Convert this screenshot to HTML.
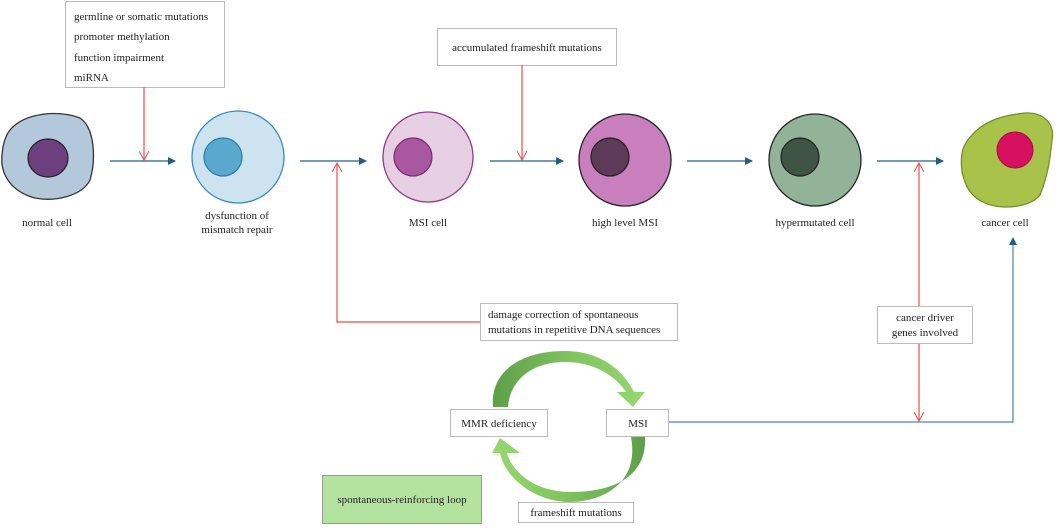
<!DOCTYPE html>
<html><head><meta charset="utf-8"><style>
html,body{margin:0;padding:0;background:#fff}
svg text{font-family:"Liberation Serif",serif;font-size:11px;fill:#222}
</style></head><body>
<svg width="1059" height="525" viewBox="0 0 1059 525" xmlns="http://www.w3.org/2000/svg">
<defs>
<marker id="bh" markerWidth="8" markerHeight="8" refX="7" refY="4" orient="auto" markerUnits="userSpaceOnUse"><path d="M0,0 L8,4 L0,8 Z" fill="#1f5f86"/></marker>
<marker id="rh" markerWidth="10" markerHeight="10" refX="9" refY="5" orient="auto" markerUnits="userSpaceOnUse"><path d="M0,0 L9,5 L0,10" fill="none" stroke="#f24a4a" stroke-width="1"/></marker>
<linearGradient id="gt" x1="0" y1="0" x2="1" y2="0"><stop offset="0" stop-color="#5f9e4a"/><stop offset="0.5" stop-color="#7fc25e"/><stop offset="1" stop-color="#97d872"/></linearGradient>
<linearGradient id="gb" x1="1" y1="0" x2="0" y2="0"><stop offset="0" stop-color="#5f9e4a"/><stop offset="0.5" stop-color="#7fc25e"/><stop offset="1" stop-color="#97d872"/></linearGradient>
</defs>
<rect x="65.5" y="1.5" width="159" height="86" fill="#fff" stroke="#bbb"/>
<text x="74" y="20">germline or somatic mutations</text>
<text x="74" y="40">promoter methylation</text>
<text x="74" y="61">function impairment</text>
<text x="74" y="81">miRNA</text>
<rect x="437.5" y="28.5" width="179" height="37" fill="#fff" stroke="#bbb"/>
<text x="527" y="51" text-anchor="middle">accumulated frameshift mutations</text>
<g stroke="#1f5f86" stroke-width="1.2">
<line x1="110" y1="161" x2="175" y2="161" marker-end="url(#bh)"/>
<line x1="300" y1="161" x2="366" y2="161" marker-end="url(#bh)"/>
<line x1="490" y1="161" x2="563" y2="161" marker-end="url(#bh)"/>
<line x1="687" y1="161" x2="752" y2="161" marker-end="url(#bh)"/>
<line x1="877" y1="161" x2="943" y2="161" marker-end="url(#bh)"/>
</g>
<polyline points="668,422 1013,422 1013,238" fill="none" stroke="#4a86b0" stroke-width="1.2" marker-end="url(#bh)"/>
<g stroke="#f24a4a" stroke-width="1.2" fill="none">
<line x1="144" y1="87" x2="144" y2="160" marker-end="url(#rh)"/>
<line x1="522" y1="65" x2="522" y2="160" marker-end="url(#rh)"/>
<polyline points="480,322 337,322 337,163" marker-end="url(#rh)"/>
<line x1="919" y1="306" x2="919" y2="163" marker-end="url(#rh)"/>
<line x1="919" y1="343" x2="919" y2="421" marker-end="url(#rh)"/>
</g>
<path d="M10,130 C25,112 60,110 80,118 C95,128 96,160 90,180 C82,196 55,202 35,198 C12,192 0,175 2,155 C3,143 6,135 10,130Z" fill="#b3c9db" stroke="#333" stroke-width="1.3"/>
<ellipse cx="48" cy="158" rx="20" ry="19" fill="#6e3f7e" stroke="#222" stroke-width="1.2"/>
<circle cx="238" cy="157" r="46" fill="#cde3ef" stroke="#3a8cc0" stroke-width="1.3"/>
<circle cx="223" cy="157" r="19" fill="#5ba8cf" stroke="#2e7aa6" stroke-width="1.2"/>
<circle cx="428" cy="157" r="45" fill="#e6cfe3" stroke="#8e3a88" stroke-width="1.3"/>
<circle cx="413" cy="157" r="19" fill="#a9579f" stroke="#7a2a70" stroke-width="1.2"/>
<circle cx="625" cy="160" r="46" fill="#c97fbe" stroke="#222" stroke-width="1.3"/>
<circle cx="610" cy="157" r="19" fill="#5c3a58" stroke="#222" stroke-width="1.2"/>
<circle cx="815" cy="160" r="46" fill="#93b398" stroke="#222" stroke-width="1.3"/>
<circle cx="800" cy="157" r="19" fill="#3f5443" stroke="#222" stroke-width="1.2"/>
<path d="M972,135 C985,120 1005,115 1025,113 C1045,112 1055,125 1052,140 C1050,160 1048,175 1040,195 C1030,208 1000,210 985,203 C970,197 965,185 962,172 C960,155 962,145 972,135Z" fill="#a9c24a" stroke="#6f8a25" stroke-width="1.2"/>
<circle cx="1015" cy="150" r="18" fill="#d6105f" stroke="#a0104a"/>
<text x="47" y="226" text-anchor="middle">normal cell</text>
<text x="237" y="219" text-anchor="middle">dysfunction of</text>
<text x="237" y="233" text-anchor="middle">mismatch repair</text>
<text x="428" y="226" text-anchor="middle">MSI cell</text>
<text x="625" y="226" text-anchor="middle">high level MSI</text>
<text x="815" y="226" text-anchor="middle">hypermutated cell</text>
<text x="1005" y="226" text-anchor="middle">cancer cell</text>
<rect x="480.5" y="303.5" width="197" height="37" fill="#fff" stroke="#bbb"/>
<text x="488" y="318">damage correction of spontaneous</text>
<text x="488" y="333">mutations in repetitive DNA sequences</text>
<rect x="877.5" y="306.5" width="95" height="37" fill="#fff" stroke="#bbb"/>
<text x="925" y="321" text-anchor="middle">cancer driver</text>
<text x="925" y="336" text-anchor="middle">genes involved</text>
<!-- loop arrows -->
<path d="M493,407 C490,372 520,351 565,351 C598,351 622,368 634,392 L645,392 L633,407 L617,392 L626,392 C614,374 592,362 565,362 C532,362 510,380 508,407 Z" fill="url(#gt)"/>
<path d="M645,437 C647,472 620,492 570,492 C535,492 512,472 507,453 L520,453 L500,438 L492,453 L500,453 C505,478 535,502 570,502 C600,502 640,485 631,437 Z" fill="url(#gb)"/>
<rect x="450.5" y="409.5" width="97" height="27" fill="#fff" stroke="#bbb"/>
<text x="499" y="427" text-anchor="middle">MMR deficiency</text>
<rect x="606.5" y="409.5" width="62" height="27" fill="#fff" stroke="#bbb"/>
<text x="638" y="427" text-anchor="middle">MSI</text>
<rect x="518.5" y="502.5" width="115" height="20" fill="#fff" stroke="#bbb"/>
<text x="576" y="516" text-anchor="middle">frameshift mutations</text>
<rect x="322.5" y="475.5" width="159" height="48" fill="#b4e3a0" stroke="#999"/>
<text x="402" y="503" text-anchor="middle">spontaneous-reinforcing loop</text>
</svg>
</body></html>
